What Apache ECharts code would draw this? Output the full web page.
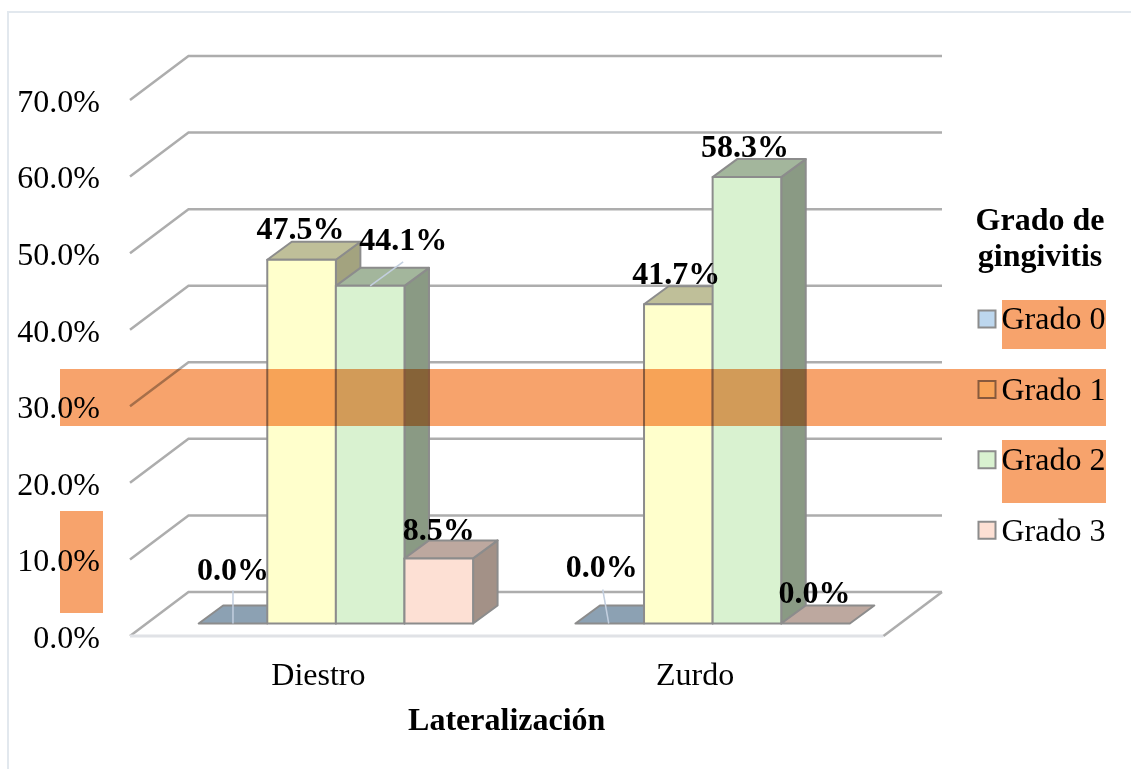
<!DOCTYPE html>
<html>
<head>
<meta charset="utf-8">
<title>Grado de gingivitis</title>
<script src="https://cdn.jsdelivr.net/npm/echarts@6/dist/echarts.min.js"></script>
<style>
  html, body { margin: 0; padding: 0; background: #fff; }
  #main { width: 1131px; height: 769px; }
</style>
</head>
<body>
<div id="main"></div>
<script>
const categories = ['Diestro', 'Zurdo'];
const seriesNames = ['Grado 0', 'Grado 1', 'Grado 2', 'Grado 3'];
const grado0 = [0.0, 0.0];
const grado1 = [47.5, 41.7];
const grado2 = [44.1, 58.3];
const grado3 = [8.5, 0.0];
const yTicks = [0, 10, 20, 30, 40, 50, 60, 70];

const FONT = '"Liberation Serif", "Times New Roman", serif';
const FONT_SIZE = 32;
const frontColors = ['#bdd7ee', '#ffffcc', '#d9f2d0', '#fde0d4'];
const topColors = ['#8ca1b3', '#bfbf99', '#a3b69c', '#bda89f'];
const sideColors = ['#7e909f', '#a3a37f', '#8a9a84', '#a39187'];
const EDGE = '#8c8c8c';
const GRID_LINE = '#adadad';
const ORANGE = '#f7a36c';

// fake 3d: wall depth, bar depth, and how far bars sit inside the floor
const WALL_DX = 58.5;
const WALL_DY = -44;
const BAR_DX = 24.5;
const BAR_DY = -18;
const FLOOR_DX = 17.5;
const FLOOR_DY = -12.5;
const BAR_WIDTH = 68.6;

// data label shifts from the bar's front top centre, [series][category]
const labelShift = [
  [[0, -52], [-8, -55]],
  [[-1, -29], [-2, -28]],
  [[33, -44], [-2, -28]],
  [[0, -27], [-1, -29]]
];
// leader lines from the label to the bar, same indexing
const leaders = {
  '0-0': [[0, 0], [0, -33]],
  '0-1': [[-1, 0], [-7, -34]],
  '2-0': [[0, 0], [33, -24]]
};

function poly(points, fill) {
  return {
    type: 'polygon',
    shape: { points },
    style: { fill, stroke: EDGE, lineWidth: 2, lineJoin: 'round' }
  };
}

function renderWalls(params, api) {
  const tick = api.value(0);
  const sys = params.coordSys;
  const y = api.coord([0, tick])[1];
  const left = sys.x;
  const right = sys.x + sys.width;
  const children = [
    {
      type: 'polyline',
      shape: { points: [[left, y], [left + WALL_DX, y + WALL_DY], [right + WALL_DX, y + WALL_DY]] },
      style: { fill: null, stroke: GRID_LINE, lineWidth: 2.5 }
    }
  ];
  if (tick === 0) {
    children.push({
      type: 'line',
      shape: { x1: left, y1: y, x2: right, y2: y },
      style: { stroke: '#e0e2e6', lineWidth: 3 }
    });
    children.push({
      type: 'line',
      shape: { x1: right, y1: y, x2: right + WALL_DX, y2: y + WALL_DY },
      style: { stroke: GRID_LINE, lineWidth: 2.5 }
    });
  }
  return { type: 'group', children };
}

function renderBox(seriesIndex) {
  return function (params, api) {
    const cat = api.value(0);
    const value = api.value(1);
    const pt = api.coord([cat, value]);
    const base = api.coord([cat, 0]);
    const x0 = pt[0] + FLOOR_DX + (seriesIndex - 2) * BAR_WIDTH;
    const x1 = x0 + BAR_WIDTH;
    const top = pt[1] + FLOOR_DY;
    const bottom = base[1] + FLOOR_DY;
    const children = [];

    if (value > 0) {
      children.push(poly([[x1, top], [x1 + BAR_DX, top + BAR_DY], [x1 + BAR_DX, bottom + BAR_DY], [x1, bottom]], sideColors[seriesIndex]));
    }
    children.push(poly([[x0, top], [x0 + BAR_DX, top + BAR_DY], [x1 + BAR_DX, top + BAR_DY], [x1, top]], topColors[seriesIndex]));
    if (value > 0) {
      children.push(poly([[x0, top], [x1, top], [x1, bottom], [x0, bottom]], frontColors[seriesIndex]));
    }

    const cx = (x0 + x1) / 2;
    const shift = labelShift[seriesIndex][cat];
    const lead = leaders[seriesIndex + '-' + cat];
    if (lead) {
      children.push({
        type: 'line',
        z2: 50,
        shape: {
          x1: cx + lead[0][0], y1: top + lead[0][1],
          x2: cx + lead[1][0], y2: top + lead[1][1]
        },
        style: { stroke: '#c3cfdf', lineWidth: 1.5 }
      });
    }
    children.push({
      type: 'text',
      z2: 100,
      style: {
        text: value.toFixed(1) + '%',
        x: cx + shift[0],
        y: top + shift[1],
        align: 'center',
        verticalAlign: 'middle',
        fontFamily: FONT,
        fontWeight: 'bold',
        fontSize: FONT_SIZE,
        fill: '#000'
      }
    });
    return { type: 'group', children };
  };
}

function boxSeries(idx, values) {
  return {
    type: 'custom',
    name: seriesNames[idx],
    coordinateSystem: 'cartesian2d',
    clip: false,
    silent: true,
    itemStyle: { color: frontColors[idx] },
    renderItem: renderBox(idx),
    encode: { x: 0, y: 1 },
    data: values.map((v, i) => [i, v])
  };
}

function band(x, y, width, height) {
  return {
    type: 'rect',
    z: 100,
    silent: true,
    shape: { x, y, width, height },
    style: { fill: ORANGE, blend: 'multiply' }
  };
}

const chart = echarts.init(document.getElementById('main'), null, { renderer: 'canvas' });

chart.setOption({
  backgroundColor: '#fff',
  animation: false,
  title: {
    text: 'Grado de\ngingivitis',
    left: 1035,
    top: 199,
    textAlign: 'center',
    textStyle: { fontFamily: FONT, fontWeight: 'bold', fontSize: FONT_SIZE, lineHeight: 36, color: '#000' }
  },
  legend: {
    data: seriesNames,
    orient: 'vertical',
    left: 977.5,
    top: 305,
    padding: 0,
    itemWidth: 17,
    itemHeight: 17,
    itemGap: 38.4,
    selectedMode: false,
    icon: 'rect',
    itemStyle: { borderColor: EDGE, borderWidth: 2 },
    formatter: name => '{t|' + name + '}',
    textStyle: {
      padding: [0, 0, 0, 1],
      rich: {
        t: { fontFamily: FONT, fontSize: FONT_SIZE, color: '#000', lineHeight: 36, verticalAlign: 'bottom' }
      }
    }
  },
  grid: { left: 130, top: 100, width: 753.5, height: 536, containLabel: false },
  xAxis: {
    type: 'category',
    data: categories,
    axisLine: { show: false },
    axisTick: { show: false },
    axisLabel: { fontFamily: FONT, fontSize: FONT_SIZE, color: '#000', margin: 25 },
    name: 'Lateralización',
    nameLocation: 'middle',
    nameGap: 70,
    nameTextStyle: { fontFamily: FONT, fontWeight: 'bold', fontSize: FONT_SIZE, color: '#000' }
  },
  yAxis: {
    type: 'value',
    min: 0,
    max: 70,
    interval: 10,
    axisLine: { show: false },
    axisTick: { show: false },
    splitLine: { show: false },
    axisLabel: {
      fontFamily: FONT,
      fontSize: FONT_SIZE,
      color: '#000',
      margin: 30,
      verticalAlign: 'top',
      lineHeight: 7,
      formatter: v => v.toFixed(1) + '%'
    }
  },
  series: [
    {
      type: 'custom',
      name: 'walls',
      coordinateSystem: 'cartesian2d',
      clip: false,
      silent: true,
      renderItem: renderWalls,
      encode: { y: 0 },
      data: yTicks.map(t => [t])
    },
    boxSeries(0, grado0),
    boxSeries(1, grado1),
    boxSeries(2, grado2),
    boxSeries(3, grado3)
  ],
  graphic: [
    {
      type: 'polyline',
      z: 0,
      silent: true,
      shape: { points: [[8, 769], [8, 12], [1131, 12]] },
      style: { fill: null, stroke: '#e2e8ee', lineWidth: 2 }
    },
    band(60, 369, 1046, 57),
    band(60, 511, 43, 102),
    band(1002, 300, 104, 49),
    band(1002, 440, 104, 63)
  ]
});
</script>
</body>
</html>
